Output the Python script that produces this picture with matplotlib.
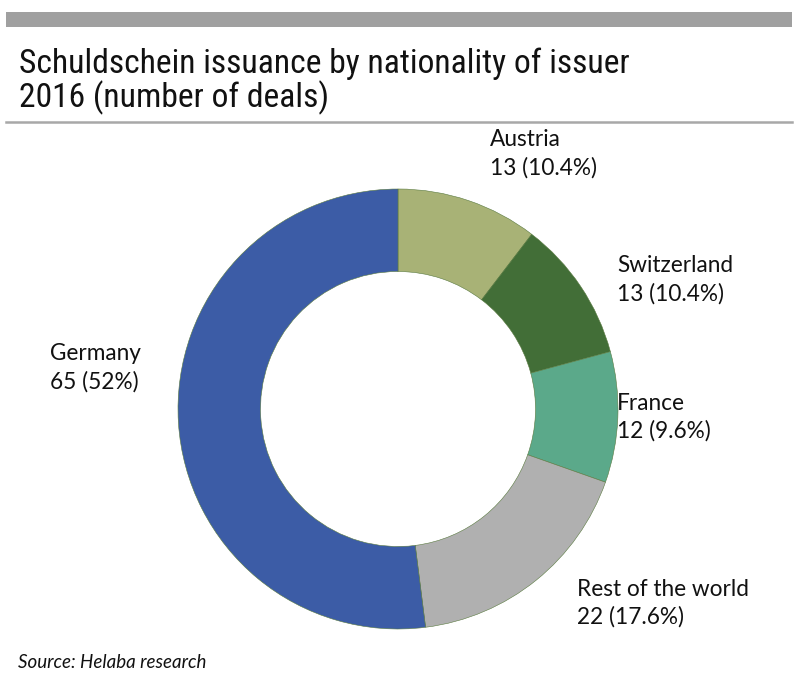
import matplotlib.pyplot as plt
from matplotlib.patches import Rectangle
from matplotlib.lines import Line2D
from matplotlib import font_manager

# data
countries = ["Austria", "Switzerland", "France", "Rest of the world", "Germany"]
deals = [13, 13, 12, 22, 65]
shares = ["10.4%", "10.4%", "9.6%", "17.6%", "52%"]
colors = ["#a8b276", "#426e37", "#5ba98a", "#b0b0b0", "#3c5ca6"]

names = {f.name for f in font_manager.fontManager.ttflist}
title_font = "Lato"
for cand in ["Roboto Condensed", "Open Sans Condensed", "Liberation Sans Narrow"]:
    if cand in names:
        title_font = cand
        break
label_font = "Lato"

W, H = 800, 685
fig = plt.figure(figsize=(W / 100, H / 100), dpi=100)

def fx(x):
    return x / W

def fy(y):
    return 1 - y / H

# top grey band and rule under the title
fig.patches.append(Rectangle((fx(6), fy(27)), fx(786), 15 / H, transform=fig.transFigure,
                             color="#a0a0a0", lw=0))
fig.lines.append(Line2D([fx(6), fx(792)], [fy(122), fy(122)], transform=fig.transFigure,
                        color="#a8a8a8", lw=1.8))

title_size = 24.2 if title_font != "Lato" else 23
fig.text(fx(19), fy(64), "Schuldschein issuance by nationality of issuer",
         family=title_font, fontsize=title_size, va="center", color="#111111")
fig.text(fx(19), fy(98), "2016 (number of deals)",
         family=title_font, fontsize=title_size, va="center", color="#111111")

# donut
cx, cy, r = 398, 409, 220
ax = fig.add_axes([fx(cx - r), fy(cy + r), 2 * r / W, 2 * r / H])
ax.pie(deals, colors=colors, startangle=90, counterclock=False,
       wedgeprops=dict(width=0.375, edgecolor="#5a7a40", linewidth=0.4))
ax.set_xlim(-1, 1)
ax.set_ylim(-1, 1)
ax.set_aspect("equal")
ax.axis("off")

# labels
label_pos = [(490, 140), (617, 266), (617, 403), (577, 589), (50, 354)]
for (x, y), name, n, s in zip(label_pos, countries, deals, shares):
    fig.text(fx(x), fy(y), name, family=label_font, fontsize=16.3, va="center", color="#111111")
    fig.text(fx(x), fy(y + 28), f"{n} ({s})", family=label_font, fontsize=16.3,
             va="center", color="#111111")

fig.text(fx(18), fy(663), "Source: Helaba research", family=label_font, style="italic",
         fontsize=13.5, va="center", color="#111111")

fig.savefig("out.png", dpi=100)
